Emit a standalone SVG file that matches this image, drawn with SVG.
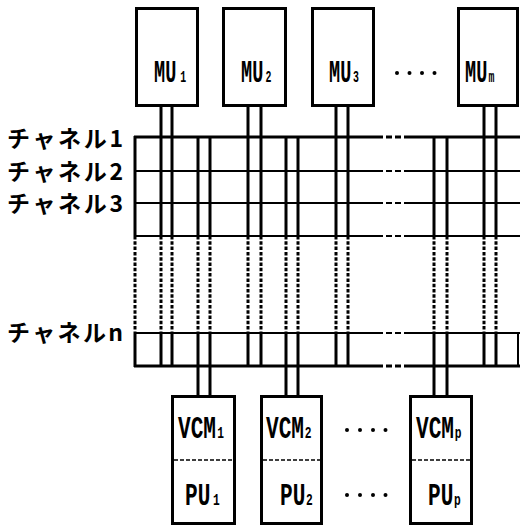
<svg xmlns="http://www.w3.org/2000/svg" width="520" height="527" viewBox="0 0 520 527">
<style>
.box{fill:#fff;stroke:#000;stroke-width:3}
.v{stroke:#000;stroke-width:3;fill:none}
.vd{stroke:#000;stroke-width:3;fill:none;stroke-dasharray:3.5 1.8}
.h{stroke:#000;stroke-width:2;fill:none}
.hd{stroke:#000;stroke-width:2;fill:none;stroke-dasharray:6 3}
.hb{stroke:#000;stroke-width:3;fill:none}
.hbd{stroke:#000;stroke-width:3;fill:none;stroke-dasharray:6 3}
.sep{stroke:#000;stroke-width:1.5;stroke-dasharray:4 2}
.lbl{font-family:"Liberation Mono","DejaVu Sans Mono",monospace;font-weight:bold;font-size:32px;fill:#000}
.sub{font-size:17px}
.jp{font-family:"Noto Sans CJK JP","Liberation Serif",sans-serif;font-weight:bold;font-size:23px;fill:#000}
.dot{fill:#000}
</style>

<g id="connectors">
  <path class="v" d="M135 136V236M135 333V367"/>
  <path class="vd" d="M135 236V333"/>
  <path class="h" d="M518 333V366"/>
  <path class="hb" d="M134 137H377M405 137H520"/>
  <path class="hbd" d="M377 137H405"/>
  <path class="h" d="M134 171H377M405 171H520M134 203H377M405 203H520M134 236H377M405 236H520M134 333H377M405 333H520"/>
  <path class="hd" d="M377 171H405M377 203H405M377 236H405M377 333H405"/>
  <path class="hb" d="M134 366H377M405 366H520"/>
  <path class="hbd" d="M377 366H405"/>
  <path class="v" d="M161 106V236M161 333V366M172 106V236M172 333V366M248 106V236M248 333V366M261 106V236M261 333V366M336 106V236M336 333V366M348 106V236M348 333V366M484 106V236M484 333V366M496 106V236M496 333V366"/>
  <path class="vd" d="M161 236V333M172 236V333M248 236V333M261 236V333M336 236V333M348 236V333M484 236V333M496 236V333"/>
  <path class="v" d="M198 137V236M198 333V397M210 137V236M210 333V397M286 137V236M286 333V397M298 137V236M298 333V397M434 137V236M434 333V397M447 137V236M447 333V397"/>
  <path class="vd" d="M198 236V333M210 236V333M286 236V333M298 236V333M434 236V333M447 236V333"/>
</g>

<g id="MU1">
  <rect class="box" x="136.5" y="8.5" width="61" height="97"/>
  <text class="lbl" transform="translate(154,82) scale(0.58,1)">MU<tspan class="sub" dx="7">1</tspan></text>
</g>
<g id="MU2">
  <rect class="box" x="223.5" y="8.5" width="62" height="97"/>
  <text class="lbl" transform="translate(241,82) scale(0.58,1)">MU<tspan class="sub" dx="4" font-size="22">2</tspan></text>
</g>
<g id="MU3">
  <rect class="box" x="312.5" y="8.5" width="61" height="97"/>
  <text class="lbl" transform="translate(329,82) scale(0.58,1)">MU<tspan class="sub" dx="3" font-size="22">3</tspan></text>
</g>
<g id="MUdots">
  <circle class="dot" cx="397" cy="73" r="2"/>
  <circle class="dot" cx="409.5" cy="73" r="2"/>
  <circle class="dot" cx="422" cy="73" r="2"/>
  <circle class="dot" cx="434.5" cy="73" r="2"/>
</g>
<g id="MUm">
  <rect class="box" x="458.5" y="8.5" width="59" height="97"/>
  <text class="lbl" transform="translate(465,82) scale(0.58,1)">MU<tspan class="sub" dx="2">m</tspan></text>
</g>

<g id="ch1"><text class="jp" x="7" y="147" textLength="116" lengthAdjust="spacing">チャネル1</text></g>
<g id="ch2"><text class="jp" x="7" y="180" textLength="116" lengthAdjust="spacing">チャネル2</text></g>
<g id="ch3"><text class="jp" x="7" y="212" textLength="116" lengthAdjust="spacing">チャネル3</text></g>
<g id="chn"><text class="jp" x="7" y="341" textLength="116" lengthAdjust="spacing">チャネルn</text></g>

<g id="VCM1">
  <rect class="box" x="172.5" y="396.5" width="62" height="127"/>
  <line class="sep" x1="174" y1="460" x2="233" y2="460"/>
  <text class="lbl" transform="translate(178,438) scale(0.66,1)">VCM<tspan class="sub" dx="2">1</tspan></text>
  <text class="lbl" transform="translate(185,505) scale(0.66,1)">PU<tspan class="sub" dx="4">1</tspan></text>
</g>
<g id="VCM2">
  <rect class="box" x="261.5" y="396.5" width="60" height="127"/>
  <line class="sep" x1="263" y1="460" x2="320" y2="460"/>
  <text class="lbl" transform="translate(266,438) scale(0.66,1)">VCM<tspan class="sub" dx="1" font-size="20">2</tspan></text>
  <text class="lbl" transform="translate(280,505) scale(0.66,1)">PU<tspan class="sub" dx="1" font-size="20">2</tspan></text>
</g>
<g id="VCMdots">
  <circle class="dot" cx="347" cy="430" r="2"/>
  <circle class="dot" cx="360" cy="430" r="2"/>
  <circle class="dot" cx="373" cy="430" r="2"/>
  <circle class="dot" cx="385.5" cy="430" r="2"/>
  <circle class="dot" cx="347" cy="495" r="2"/>
  <circle class="dot" cx="360" cy="495" r="2"/>
  <circle class="dot" cx="373" cy="495" r="2"/>
  <circle class="dot" cx="385.5" cy="495" r="2"/>
</g>
<g id="VCMp">
  <rect class="box" x="410.5" y="396.5" width="61" height="127"/>
  <line class="sep" x1="412" y1="460" x2="470" y2="460"/>
  <text class="lbl" transform="translate(416,438) scale(0.66,1)">VCM<tspan class="sub" dx="1">p</tspan></text>
  <text class="lbl" transform="translate(428,505) scale(0.66,1)">PU<tspan class="sub" dx="1">p</tspan></text>
</g>
</svg>
